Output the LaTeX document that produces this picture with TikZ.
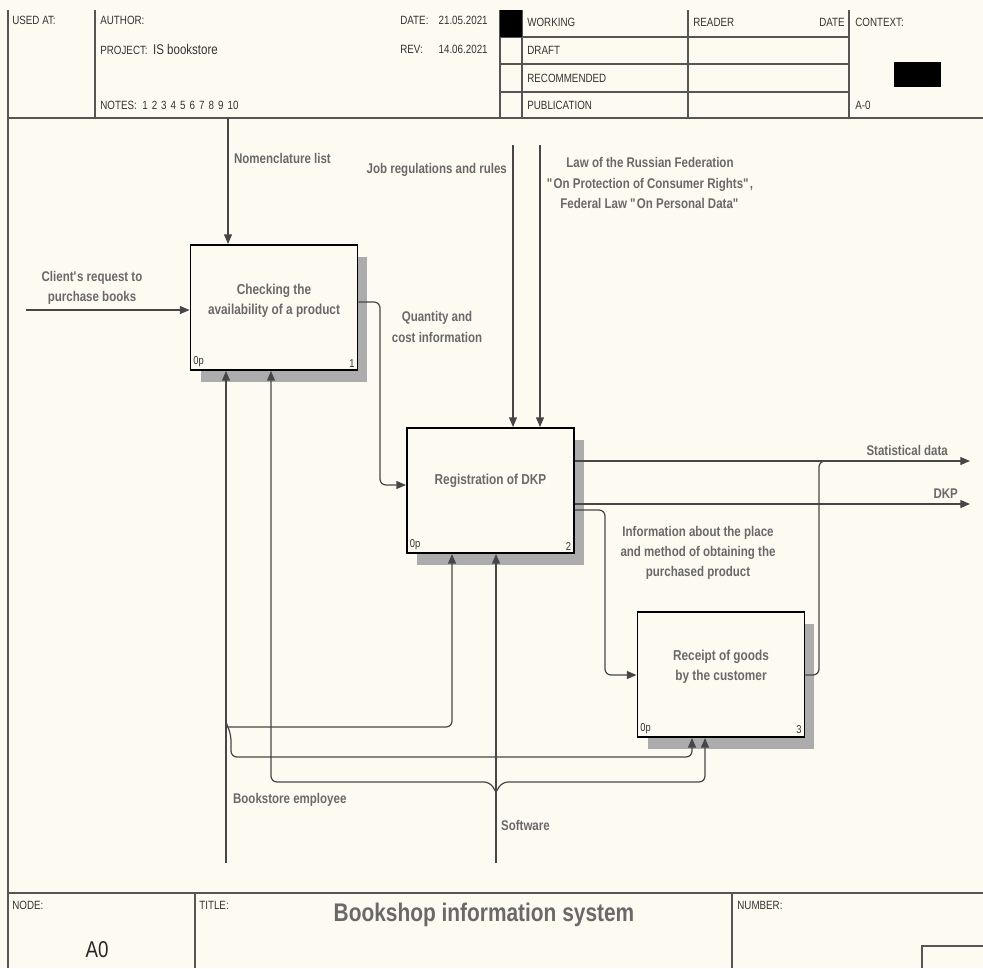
\documentclass[tikz,border=0pt]{standalone}
\usepackage{fontspec}
\setmainfont{Liberation Sans}[FakeStretch=0.82]
\usetikzlibrary{arrows.meta, positioning, calc, shadows}
\definecolor{papercream}{RGB}{253, 251, 241}
\definecolor{inkgray}{RGB}{105, 105, 105}
\definecolor{linegray}{RGB}{70, 70, 70}
\definecolor{framegray}{RGB}{85, 85, 85}

\tikzset{
  actbox/.style={draw=black, line width=1.1pt, fill=papercream, minimum width=3.34cm, minimum height=2.5cm, inner sep=0pt,
    drop shadow={shadow xshift=0.2cm, shadow yshift=-0.24cm, fill=gray!65, opacity=1}},
  acttext/.style={font=\fontsize{8.2}{11.2}\selectfont\bfseries, text=inkgray, align=center},
  arrowlbl/.style={font=\fontsize{8}{11.5}\selectfont\bfseries, text=inkgray, align=center, inner sep=1pt},
  cornerlbl/.style={font=\fontsize{6.5}{7}\selectfont, text=black!80, inner sep=2pt},
  flow/.style={draw=linegray, line width=0.7pt, rounded corners=0.12cm, -{Triangle[length=5.5pt, width=4.5pt]}},
  pipe/.style={draw=linegray, line width=0.7pt, rounded corners=0.12cm},
  frameline/.style={draw=framegray, line width=0.8pt},
  hdr/.style={font=\fontsize{6.8}{7}\selectfont, text=black!80, inner sep=0pt, anchor=west},
}

\begin{document}
\begin{tikzpicture}[x=0.02cm, y=-0.02cm]
  % ===== 背景 =====
  \fill[papercream] (0,0) rectangle (983,968);
  \useasboundingbox (0,0) rectangle (983,968);

  % ===== 表头 =====
  \draw[frameline] (8,10) -- (8,968);
  \draw[frameline] (8,118) -- (983,118);
  \foreach \x in {95,500,522,688,849} {
    \draw[frameline] (\x,10) -- (\x,118);
  }
  \foreach \y in {37,64,92} {
    \draw[frameline] (500,\y) -- (849,\y);
  }
  \fill[black] (500,10) rectangle (522,37);
  \fill[black] (894,62) rectangle (941,87);

  \node[hdr] (usedat) at (12,20) {USED AT:};
  \node[hdr] (author) at (100,20) {AUTHOR:};
  \node[hdr] (project) at (100,49) {PROJECT:\ \ {\fontsize{8}{9}\selectfont IS bookstore}};
  \node[hdr] (notes) at (100,105) {NOTES:\ \ 1\hspace{2.3pt}2\hspace{2.3pt}3\hspace{2.3pt}4\hspace{2.3pt}5\hspace{2.3pt}6\hspace{2.3pt}7\hspace{2.3pt}8\hspace{2.3pt}9\hspace{2.3pt}10};
  \node[hdr] (datelbl) at (400,20) {DATE:};
  \node[hdr, anchor=east] (dateval) at (488,20) {21.05.2021};
  \node[hdr] (revlbl) at (400,49) {REV:};
  \node[hdr, anchor=east] (revval) at (488,49) {14.06.2021};
  \foreach \y/\lbl/\nm in {22/WORKING/st1, 50/DRAFT/st2, 78/RECOMMENDED/st3, 105/PUBLICATION/st4} {
    \node[hdr] (\nm) at (527,\y) {\lbl};
  }
  \node[hdr] (reader) at (693,22) {READER};
  \node[hdr, anchor=east] (rdate) at (845,22) {DATE};
  \node[hdr] (context) at (855,22) {CONTEXT:};
  \node[hdr] (ctxnode) at (855,105) {A-0};

  % ===== 底栏 =====
  \draw[frameline] (8,893) -- (983,893);
  \draw[frameline] (195,893) -- (195,968);
  \draw[frameline] (732,893) -- (732,968);
  \draw[frameline] (983,946) -- (922,946) -- (922,968);
  \node[hdr] (nodelbl) at (12,905) {NODE:};
  \node[hdr] (titlelbl) at (199,905) {TITLE:};
  \node[hdr] (numberlbl) at (737,905) {NUMBER:};
  \node[font=\fontsize{14.5}{16}\selectfont\bfseries, text=inkgray] (title) at (484,915) {Bookshop information system};
  \node[font=\fontsize{13}{15}\selectfont, text=black!85] (nodeid) at (97,950) {A0};

  % ===== 功能块 =====
  \node[actbox] (b1) at (274,307.5) {};
  \node[actbox] (b2) at (490.5,490.5) {};
  \node[actbox] (b3) at (721,674.5) {};
  \node[acttext] (b1txt) at ($(b1)+(0,-7)$) {Checking the\\availability of a product};
  \node[acttext] (b2txt) at ($(b2)+(0,-10)$) {Registration of DKP};
  \node[acttext] (b3txt) at ($(b3)+(0,-8)$) {Receipt of goods\\by the customer};
  \foreach \b/\n in {b1/1, b2/2, b3/3} {
    \node[cornerlbl, anchor=south west] (\b op) at (\b.south west) {0p};
    \node[cornerlbl, anchor=south east] (\b no) at (\b.south east) {\n};
  }

  % ===== 控制 =====
  \coordinate (c1) at (228,118);
  \coordinate (c2) at (513,145);
  \coordinate (c3) at (540,145);
  \draw[flow] (c1) -- (c1 |- b1.north);
  \draw[flow] (c2) -- (c2 |- b2.north);
  \draw[flow] (c3) -- (c3 |- b2.north);
  \node[arrowlbl, anchor=west] (c1lbl) at (232,158) {Nomenclature list};
  \node[arrowlbl, anchor=east] (c2lbl) at (509,170) {Job regulations and rules};
  \node[arrowlbl] (c3lbl) at (650,183) {Law of the Russian Federation\\\textquotedbl On Protection of Consumer Rights\textquotedbl,\\Federal Law \textquotedbl On Personal Data\textquotedbl};

  % ===== 输入 / 输出 =====
  \coordinate (in1) at (26,310);
  \draw[flow] (in1) -- (in1 -| b1.west);
  \node[arrowlbl] (in1lbl) at (92,288) {Client\textquotesingle s request to\\purchase books};

  \draw[flow] (b1.east |- 0,302) -- (380,302) -- (380,485) -- (b2.west |- 0,485);
  \node[arrowlbl] (q1lbl) at (437,327) {Quantity and\\cost information};

  \coordinate (out1) at (970,461);
  \coordinate (out2) at (970,504);
  \draw[flow] (b2.east |- out1) -- (out1);
  \draw[flow] (b2.east |- out2) -- (out2);
  \node[arrowlbl, anchor=east] (out1lbl) at (950,450) {Statistical data};
  \node[arrowlbl, anchor=east] (out2lbl) at (960,494) {DKP};

  \draw[flow] (b2.east |- 0,510) -- (605,510) -- (605,675) -- (b3.west |- 0,675);
  \node[arrowlbl] (infolbl) at (698,553) {Information about the place\\and method of obtaining the\\purchased product};
  \draw[pipe] (b3.east |- 0,675) -- (819,675) -- (819,461) -- (835,461);

  % ===== 机制 =====
  \coordinate (m1) at (226,863);
  \coordinate (m2) at (496,863);
  \draw[flow] (m1) -- (m1 |- b1.south);
  \draw[flow] (m2) -- (m2 |- b2.south);
  \draw[flow] (226,727) -- (452,727) -- (452,727 |- b2.south);
  \draw[flow] (226,722) -- (231,735) -- (231,757) -- (692,757) -- (692,757 |- b3.south);
  \draw[flow] (496,792) -- (490,782) -- (271,782) -- (271,782 |- b1.south);
  \draw[flow] (496,792) -- (502,782) -- (705,782) -- (705,782 |- b3.south);
  \node[arrowlbl, anchor=west] (m1lbl) at (231,800) {Bookstore employee};
  \node[arrowlbl, anchor=west] (m2lbl) at (499,825) {Software};
\end{tikzpicture}
\end{document}
